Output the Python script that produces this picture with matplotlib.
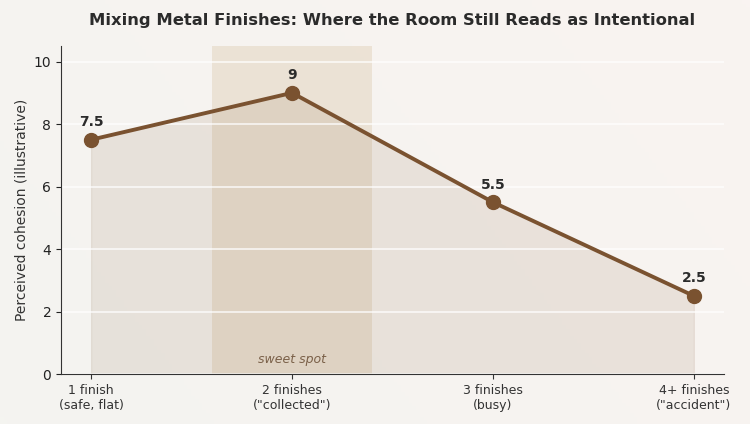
import matplotlib
matplotlib.use("Agg")
import matplotlib.pyplot as plt
import numpy as np
from matplotlib.colors import LinearSegmentedColormap

categories = ['1 finish\n(safe, flat)', '2 finishes\n("collected")',
              '3 finishes\n(busy)', '4+ finishes\n("accident")']
scores = [7.5, 9.0, 5.5, 2.5]
score_labels = ['7.5', '9', '5.5', '2.5']
sweet_spot_label = 'sweet spot'

line_color = '#7a5230'

fig = plt.figure(figsize=(7.5, 4.24), dpi=100)

# background gradient
bg = fig.add_axes([0, 0, 1, 1], zorder=-10)
cmap = LinearSegmentedColormap.from_list('bg', ['#f4f4f0', '#f9f3f1'])
gx, gy = np.meshgrid(np.linspace(0, 1, 200), np.linspace(0, 1, 120))
grad = (gx * 0.7 + (1 - gy) * 0.3)
bg.imshow(grad, cmap=cmap, aspect='auto', extent=[0, 1, 0, 1], origin='upper')
bg.axis('off')

ax = fig.add_axes([0.0813, 0.1179, 0.884, 0.7736])
ax.patch.set_alpha(0)
x = np.arange(len(categories))

ax.axvspan(0.6, 1.4, color='#c8a878', alpha=0.22, zorder=0.2, lw=0)
ax.fill_between(x, scores, 0, color=line_color, alpha=0.11, zorder=0.3, lw=0.8)
ax.plot(x, scores, color=line_color, lw=2.8, marker='o', markersize=10, zorder=3)

for xi, v, lab in zip(x, scores, score_labels):
    ax.annotate(lab, (xi, v), xytext=(0, 7.5), textcoords='offset points',
                ha='center', va='bottom', fontsize=10, fontweight='bold', color='#2b2b2b')

ax.text(1, 0.25, sweet_spot_label, ha='center', va='bottom', fontsize=9,
        style='italic', color='#7a6048')

ax.set_xlim(-0.15, 3.15)
ax.set_ylim(0, 10.5)
ax.set_yticks([0, 2, 4, 6, 8, 10])
ax.set_xticks(x)
ax.set_xticklabels(categories, fontsize=9, color='#333333')
ax.tick_params(axis='y', labelsize=10, colors='#222222')
ax.tick_params(axis='x', colors='#333333')
ax.grid(axis='y', color='white', lw=1.2, alpha=0.8)
ax.set_axisbelow(True)
for s in ['top', 'right']:
    ax.spines[s].set_visible(False)
for s in ['left', 'bottom']:
    ax.spines[s].set_color('#333333')
ax.set_ylabel('Perceived cohesion (illustrative)', fontsize=10, color='#333333')

fig.suptitle('Mixing Metal Finishes: Where the Room Still Reads as Intentional',
             x=0.523, y=0.97, fontsize=11.8, fontweight='bold', color='#2b2b2b')

fig.savefig('out.png', dpi=100)
